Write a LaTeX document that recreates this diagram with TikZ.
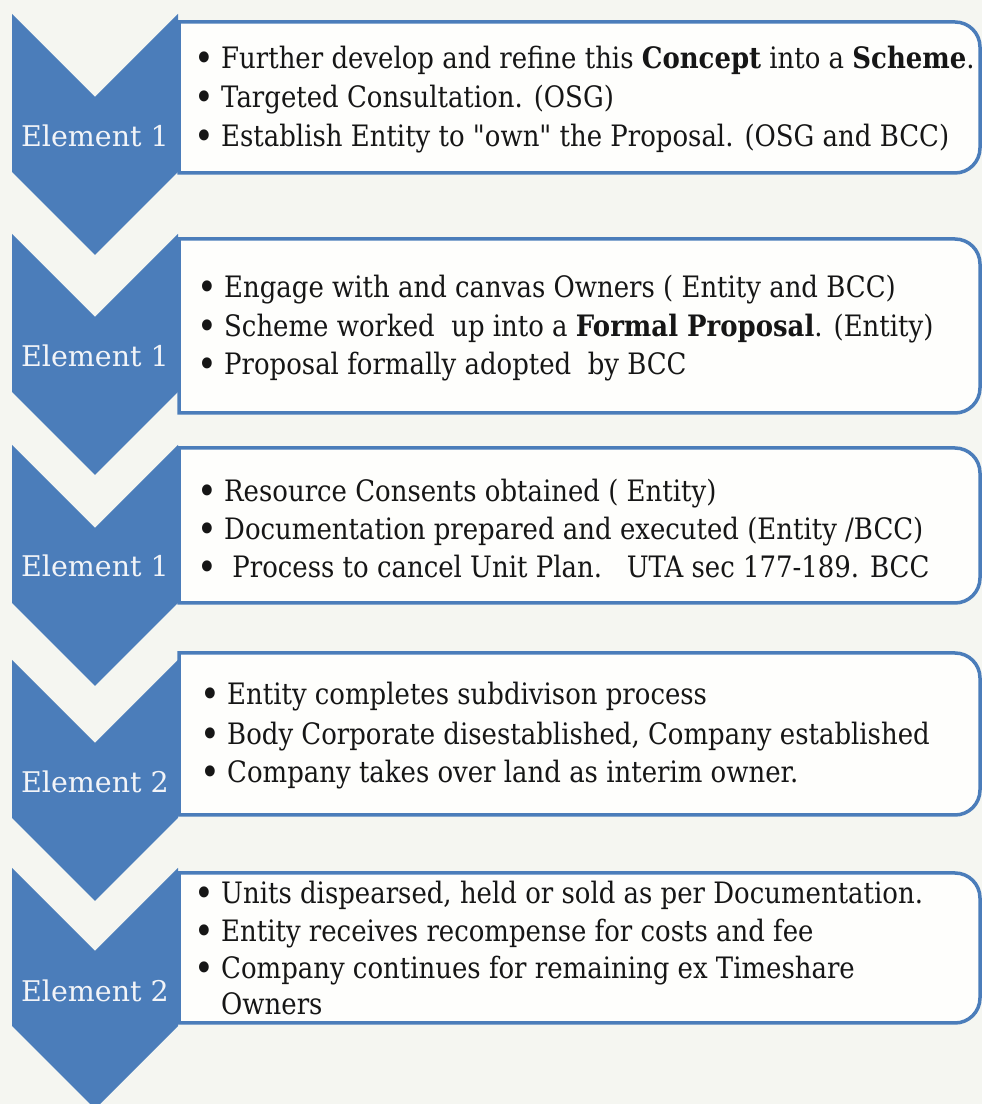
\documentclass[tikz,border=0pt]{standalone}
\usepackage{fontspec}
\setmainfont{DejaVu Serif}[FakeStretch=0.88]
\newfontfamily\elemfont{DejaVu Serif}
\definecolor{bg}{HTML}{F5F6F1}
\definecolor{blueC}{HTML}{4B7DBA}
\definecolor{boxfill}{HTML}{FEFEFC}
\definecolor{ink}{HTML}{161616}
\definecolor{labelink}{HTML}{F2F4F8}
\tikzset{
  chevfill/.style={fill=blueC},
  boxline/.style={draw=blueC, line width=3.5pt, fill=boxfill},
  txt/.style={anchor=base west, inner sep=0pt, text=ink, font=\fontsize{29.5}{36}\selectfont},
  elem/.style={anchor=base, inner sep=0pt, text=labelink, font=\elemfont\fontsize{28.5}{34}\selectfont},
}
\newcommand\bul{\makebox[27pt][l]{\raisebox{-2.6pt}{\fontsize{38}{38}\selectfont\textbullet}}}
\newcommand\sq[1]{{\addfontfeatures{Ligatures=TeXOff}"#1"}}
\newcommand\chevshape[1]{\fill[chevfill] (12,#1) -- (95,#1+83) -- (178,#1) -- (178,#1+158) -- (95,#1+241) -- (12,#1+158) -- cycle;}
\newcommand\stagebox[2]{\draw[boxline] (179,#1) -- (955,#1) arc[start angle=-90,end angle=0,radius=25] -- (980,#2-25) arc[start angle=0,end angle=90,radius=25] -- (179,#2) -- cycle;}
\begin{document}
\begin{tikzpicture}[x=1pt,y=1pt]
\useasboundingbox (0,0) rectangle (982,1104);
\fill[bg] (0,0) rectangle (982,1104);
\begin{scope}[shift={(0,1104)}, yscale=-1]
  % chevrons
  \chevshape{14}
  \chevshape{234}
  \chevshape{445}
  \chevshape{660}
  \chevshape{868}
  % boxes
  \stagebox{22}{173}
  \stagebox{239}{413}
  \stagebox{448}{603}
  \stagebox{653}{815}
  \stagebox{873}{1023}
  % labels
  \node[elem] (e1) at (95,147) {Element 1};
  \node[elem] (e2) at (95,367) {Element 1};
  \node[elem] (e3) at (95,577) {Element 1};
  \node[elem] (e4) at (95,793) {Element 2};
  \node[elem] (e5) at (95,1002) {Element 2};
  % box 1
  \node[txt] (b1a) at (194,69) {\bul Further develop and refine this \textbf{Concept} into a \textbf{Scheme}.};
  \node[txt] (b1b) at (194,108) {\bul Targeted Consultation. (OSG)};
  \node[txt] (b1c) at (194,147) {\bul Establish Entity to \sq{own} the Proposal. (OSG and BCC)};
  % box 2
  \node[txt] (b2a) at (197,298) {\bul Engage with and canvas Owners ( Entity and BCC)};
  \node[txt] (b2b) at (197,337) {\bul Scheme worked\ \ up into a \textbf{Formal Proposal}. (Entity)};
  \node[txt] (b2c) at (197,375) {\bul Proposal formally adopted\ \ by BCC};
  % box 3
  \node[txt] (b3a) at (197,502) {\bul Resource Consents obtained ( Entity)};
  \node[txt] (b3b) at (197,540) {\bul Documentation prepared and executed (Entity /BCC)};
  \node[txt] (b3c) at (197,578) {\bul \ Process to cancel Unit Plan.\ \ \ UTA sec 177-189. BCC};
  % box 4
  \node[txt] (b4a) at (200,705) {\bul Entity completes subdivison process};
  \node[txt] (b4b) at (200,745) {\bul Body Corporate disestablished, Company established};
  \node[txt] (b4c) at (200,783) {\bul Company takes over land as interim owner.};
  % box 5
  \node[txt] (b5a) at (194,904) {\bul Units dispearsed, held or sold as per Documentation.};
  \node[txt] (b5b) at (194,942) {\bul Entity receives recompense for costs and fee};
  \node[txt] (b5c) at (194,979) {\bul Company continues for remaining ex Timeshare};
  \node[txt] (b5d) at (194,1015) {\makebox[27pt][l]{}Owners};
\end{scope}
\end{tikzpicture}
\end{document}
